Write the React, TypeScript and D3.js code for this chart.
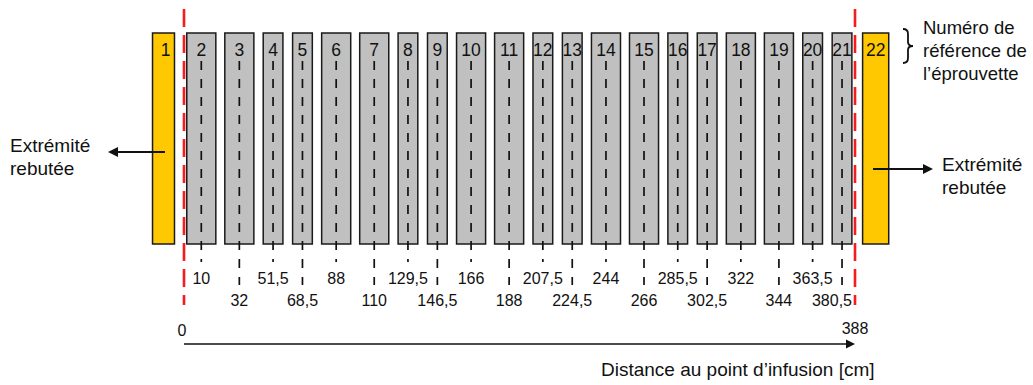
import React from "react";
import * as d3 from "d3";

// ---- data ----
const specimenIds: number[] = [2, 3, 4, 5, 6, 7, 8, 9, 10, 11, 12, 13, 14, 15, 16, 17, 18, 19, 20, 21];
const positions: number[] = [10, 32, 51.5, 68.5, 88, 110, 129.5, 146.5, 166, 188, 207.5, 224.5, 244, 266, 285.5, 302.5, 322, 344, 363.5, 380.5];
const widthsCm: number[] = [16.8, 16.8, 11.4, 11.4, 16.8, 16.8, 11.4, 11.4, 16.8, 16.8, 11.4, 11.4, 16.8, 16.8, 11.4, 11.4, 16.8, 16.8, 11.4, 11.4];
const endIds: number[] = [1, 22];
const endStarts: number[] = [-18.2, 392.4];
const endEnds: number[] = [-5.5, 407.5];
const axisDomain: number[] = [0, 388];
const axisTitle = "Distance au point d’infusion [cm]";
const legendLines: string[] = ["Numéro de", "référence de", "l’éprouvette"];
const discardLines: string[] = ["Extrémité", "rebutée"];

const W = 1033;
const H = 385;
const FONT = "'Liberation Sans', Arial, sans-serif";

export default function App() {
  const x = d3.scaleLinear().domain(axisDomain).range([184, 855]);
  const barTop = 33;
  const barBottom = 244;
  const x0 = x(axisDomain[0]);
  const x1 = x(axisDomain[1]);
  const fmt = (v: number) => String(v).replace(".", ",");

  return (
    <svg width={W} height={H} style={{ position: "absolute", left: 0, top: 0, background: "#fff" }} fontFamily={FONT}>
      {/* end (discarded) specimens */}
      {endIds.map((id, i) => {
        const a = x(endStarts[i]);
        const b = x(endEnds[i]);
        return (
          <g key={"e" + id}>
            <rect x={a} y={barTop} width={b - a} height={barBottom - barTop} fill="#ffc800" stroke="#1a1a1a" strokeWidth={1.5} />
            <text x={(a + b) / 2 + (id === 1 ? 2 : 0)} y={56} fontSize={17.5} textAnchor="middle" fill="#111">{id}</text>
          </g>
        );
      })}
      {/* specimens */}
      {specimenIds.map((id, i) => {
        const c = x(positions[i]);
        const w = x(widthsCm[i]) - x(0);
        const bottomRow = i % 2 === 1;
        const lineEnd = bottomRow ? 285 : 262;
        let lx = c;
        if (lx > x1 - 23) lx = x1 - 23;
        return (
          <g key={"s" + id}>
            <rect x={c - w / 2} y={barTop} width={w} height={barBottom - barTop} fill="#c0c0c0" stroke="#1a1a1a" strokeWidth={1.5} />
            <text x={c} y={56} fontSize={17.5} textAnchor="middle" fill="#111">{id}</text>
            <line x1={c} x2={c} y1={61} y2={lineEnd} stroke="#111" strokeWidth={1.7} strokeDasharray="9,9" />
            <text x={lx} y={bottomRow ? 306 : 284} fontSize={16} textAnchor="middle" fill="#111">{fmt(positions[i])}</text>
          </g>
        );
      })}
      {/* red boundary lines */}
      {[x0, x1].map((px, i) => (
        <line key={"r" + i} x1={px} x2={px} y1={9} y2={305} stroke="#f41c1c" strokeWidth={2.6} strokeDasharray="18,8" />
      ))}
      {/* axis */}
      <text x={x0 - 2} y={336} fontSize={16} textAnchor="middle" fill="#111">{axisDomain[0]}</text>
      <text x={x1} y={334} fontSize={16} textAnchor="middle" fill="#111">{axisDomain[1]}</text>
      <line x1={x0} x2={x1 - 8} y1={344} y2={344} stroke="#111" strokeWidth={1.6} />
      <path d={`M${x1},344 L${x1 - 9},339.5 L${x1 - 9},348.5 Z`} fill="#111" />
      <text x={601} y={376} fontSize={19} fill="#111">{axisTitle}</text>

      {/* legend brace */}
      <path d="M903,29 Q908,29 908,34 L908,42 Q908,46 913,46 Q908,46 908,50 L908,58 Q908,63 903,63" fill="none" stroke="#111" strokeWidth={1.8} />
      {legendLines.map((t, i) => (
        <text key={"l" + i} x={923} y={34 + i * 23} fontSize={18.5} fill="#111">{t}</text>
      ))}

      {/* left discard annotation */}
      <line x1={165} x2={117} y1={152} y2={152} stroke="#111" strokeWidth={1.8} />
      <path d="M108,152 L118,147 L118,157 Z" fill="#111" />
      {discardLines.map((t, i) => (
        <text key={"dl" + i} x={10} y={152 + i * 23} fontSize={19} fill="#111">{t}</text>
      ))}

      {/* right discard annotation */}
      <line x1={873} x2={924} y1={169} y2={169} stroke="#111" strokeWidth={1.8} />
      <path d="M933,169 L923,164 L923,174 Z" fill="#111" />
      {discardLines.map((t, i) => (
        <text key={"dr" + i} x={942} y={171 + i * 22.5} fontSize={19} fill="#111">{t}</text>
      ))}
    </svg>
  );
}
